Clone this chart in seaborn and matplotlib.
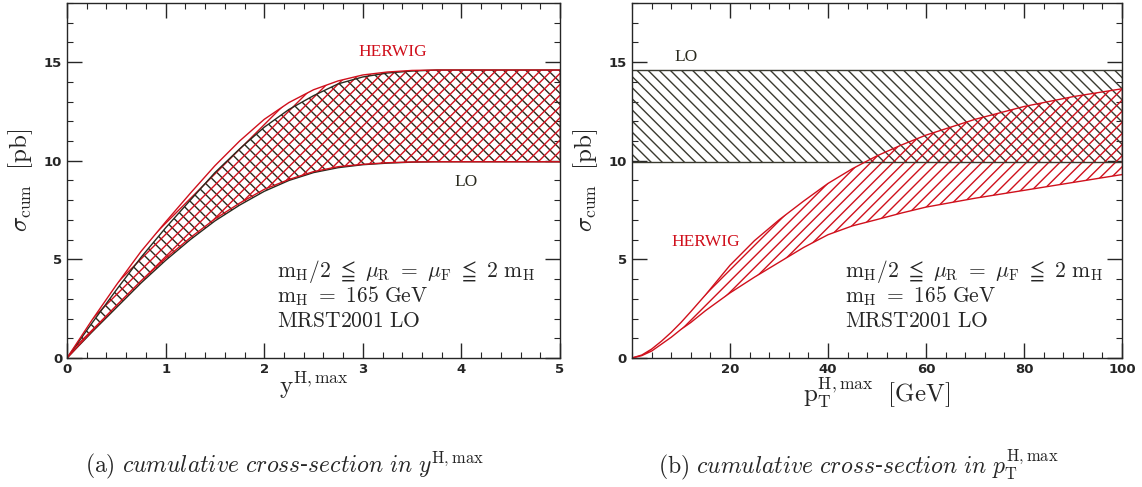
import numpy as np
import pandas as pd
import matplotlib
matplotlib.use("Agg")
import matplotlib.pyplot as plt
import seaborn as sns
from matplotlib.ticker import MultipleLocator

# rapidity cut values and cumulative cross-sections (pb)
y_cut = [0, 0.25, 0.5, 0.75, 1, 1.25, 1.5, 1.75, 2, 2.25, 2.5, 2.75, 3, 3.25, 3.5, 3.75, 4, 4.5, 5]
lo_y_up = [0, 1.75, 3.45, 5.1, 6.6, 8.0, 9.4, 10.6, 11.7, 12.6, 13.3, 13.9, 14.25, 14.45, 14.55, 14.6, 14.6, 14.6, 14.6]
lo_y_dn = [0, 1.3, 2.55, 3.8, 4.95, 6.0, 6.95, 7.75, 8.45, 9.0, 9.4, 9.65, 9.8, 9.88, 9.93, 9.95, 9.95, 9.95, 9.95]
hw_y_up = [0, 1.9, 3.7, 5.4, 6.9, 8.35, 9.75, 11.0, 12.1, 12.95, 13.6, 14.05, 14.35, 14.5, 14.58, 14.6, 14.6, 14.6, 14.6]
hw_y_dn = [0, 1.35, 2.65, 3.9, 5.05, 6.1, 7.05, 7.85, 8.55, 9.05, 9.45, 9.7, 9.82, 9.9, 9.94, 9.95, 9.95, 9.95, 9.95]

# pT cut values (GeV)
pt_cut = [0, 2, 4, 6, 8, 10, 12, 15, 20, 25, 30, 35, 40, 45, 50, 55, 60, 70, 80, 90, 100]
hw_pt_up = [0, 0.15, 0.45, 0.85, 1.3, 1.8, 2.35, 3.2, 4.7, 5.95, 7.0, 7.95, 8.85, 9.6, 10.25, 10.8, 11.3, 12.1, 12.75, 13.25, 13.65]
hw_pt_dn = [0, 0.12, 0.35, 0.7, 1.05, 1.45, 1.8, 2.4, 3.3, 4.1, 4.85, 5.6, 6.25, 6.7, 7.02, 7.35, 7.65, 8.1, 8.5, 8.9, 9.3]
lo_pt_up = [14.6] * len(pt_cut)
lo_pt_dn = [9.95] * len(pt_cut)

RED = "#d0101c"
DARK = "#2a2a1e"

sns.set_style("ticks")
plt.rcParams["font.family"] = ["DejaVu Serif"]
plt.rcParams["mathtext.fontset"] = "cm"
plt.rcParams["hatch.linewidth"] = 1.0

fig = plt.figure(figsize=(11.42, 4.87), dpi=100)
ax1 = fig.add_axes([0.0587, 0.2649, 0.4317, 0.729])
ax2 = fig.add_axes([0.5534, 0.2649, 0.4291, 0.729])


def band(ax, x, lo, hi, color, hatch):
    ax.fill_between(x, lo, hi, facecolor="none", edgecolor=color, hatch=hatch, linewidth=0)
    df = pd.DataFrame({"x": list(x) * 2, "v": list(lo) + list(hi), "s": ["lo"] * len(x) + ["hi"] * len(x)})
    sns.lineplot(data=df, x="x", y="v", units="s", estimator=None, color=color, lw=1.0, ax=ax)
    ax.plot([x[-1], x[-1]], [lo[-1], hi[-1]], color=color, lw=1.0)


band(ax1, y_cut, lo_y_dn, lo_y_up, DARK, "\\\\\\")
band(ax1, y_cut, hw_y_dn, hw_y_up, RED, "///")
band(ax2, pt_cut, lo_pt_dn, lo_pt_up, "#3a3a30", "\\\\\\")
band(ax2, pt_cut, hw_pt_dn, hw_pt_up, RED, "///")

for ax in (ax1, ax2):
    ax.set_ylim(0, 18)
    ax.yaxis.set_major_locator(MultipleLocator(5))
    ax.yaxis.set_minor_locator(MultipleLocator(1))
    ax.tick_params(which="both", direction="in", top=True, right=True, labelsize=9.5)
    ax.tick_params(which="major", length=11, width=1)
    ax.tick_params(which="minor", length=4, width=0.8)
    for sp in ax.spines.values():
        sp.set_linewidth(1.0)
    ax.set_ylabel(r"$\sigma_{\rm cum}\ \ [\rm pb]$", fontsize=18, labelpad=6)

ax1.set_xlim(0, 5)
ax1.xaxis.set_major_locator(MultipleLocator(1))
ax1.xaxis.set_minor_locator(MultipleLocator(0.2))
ax1.set_xlabel(r"$\mathrm{y}^{\rm H,max}$", fontsize=18, labelpad=-4)

ax2.set_xlim(0, 100)
ax2.xaxis.set_minor_locator(MultipleLocator(4))
ax2.set_xticks([20, 40, 60, 80, 100])
ax2.set_xlabel(r"$\mathrm{p}_{\rm T}^{\rm H,max}\ \ [\mathrm{GeV}]$", fontsize=18, labelpad=0)

for ax in (ax1, ax2):
    for lab in ax.get_xticklabels() + ax.get_yticklabels():
        lab.set_fontfamily("DejaVu Sans")
        lab.set_fontweight("bold")

txt_lines = [r"$\mathrm{m_H/2\ \leqq\ \mu_R\ =\ \mu_F\ \leqq\ 2\ m_H}$",
             r"$\mathrm{m_H\ =\ 165\ GeV}$",
             r"$\mathrm{MRST2001\ LO}$"]
for ax, x0 in ((ax1, 2.13), (ax2, 43.5)):
    for i, t in enumerate(txt_lines):
        ax.text(x0, 4.4 - 1.27 * i, t, fontsize=15.5, va="center", ha="left")

lab_kw = dict(fontsize=12.5, ha="center", va="center", family="Liberation Serif")
ax1.text(3.3, 15.5, "HERWIG", color=RED, **lab_kw)
ax1.text(4.05, 8.9, "LO", color=DARK, **lab_kw)
ax2.text(11.0, 15.25, "LO", color=DARK, **lab_kw)
ax2.text(15.0, 5.9, "HERWIG", color=RED, **lab_kw)

fig.text(0.249, 0.045, r"$\mathrm{(a)}\ \mathit{cumulative\ cross}$-$\mathit{section\ in}\ y^{\mathrm{H,max}}$",
         fontsize=17, ha="center", va="center")
fig.text(0.752, 0.045, r"$\mathrm{(b)}\ \mathit{cumulative\ cross}$-$\mathit{section\ in}\ p_{\mathrm{T}}^{\mathrm{H,max}}$",
         fontsize=17, ha="center", va="center")

fig.savefig("out.png", dpi=100)
